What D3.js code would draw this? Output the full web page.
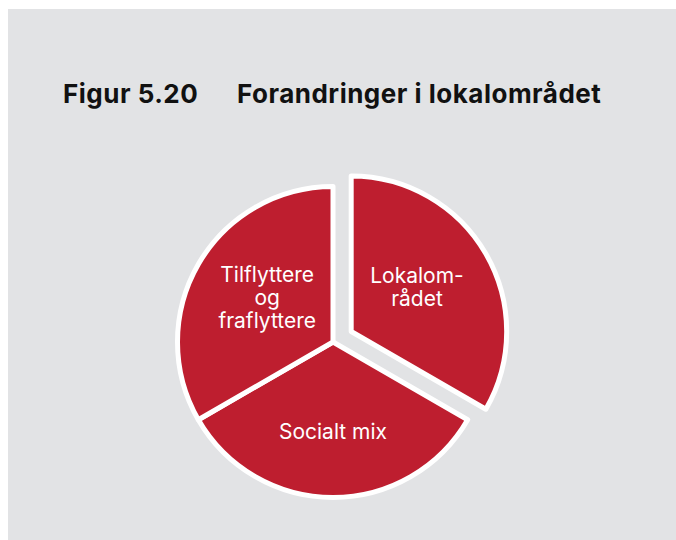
<!DOCTYPE html>
<html>
<head>
<meta charset="utf-8">
<script src="https://cdn.jsdelivr.net/npm/d3@7"></script>
<style>
  body { margin: 0; background: #fff; }
  svg { display: block; font-family: Inter, 'Noto Sans', sans-serif; }
</style>
</head>
<body>
<div id="chart"></div>
<script>
const labels = [['Lokalom-', 'rådet'], ['Socialt mix'], ['Tilflyttere', 'og', 'fraflyttere']]
const values = [1, 1, 1]
const exploded = [true, false, false]

const width = 676
const height = 540
const cx = 333
const cy = 342
const radius = 155.5
const explodeBy = 21
// labels sit on a slightly flattened ring inside the pie
const labelRx = 76
const labelRy = 89

const svg = d3
  .select('#chart')
  .append('svg')
  .attr('width', width)
  .attr('height', height)

svg
  .append('rect')
  .attr('x', 8)
  .attr('y', 9)
  .attr('width', width - 8)
  .attr('height', height - 9)
  .attr('fill', '#e2e3e5')

svg
  .append('text')
  .attr('x', 63)
  .attr('y', 103)
  .style('font-size', '26px')
  .style('font-weight', 700)
  .style('letter-spacing', '0.5px')
  .attr('fill', '#111')
  .text('Figur 5.20')
svg
  .append('text')
  .attr('x', 237)
  .attr('y', 103)
  .style('font-size', '26px')
  .style('font-weight', 700)
  .style('letter-spacing', '0.5px')
  .attr('fill', '#111')
  .text('Forandringer i lokalområdet')

const pie = d3.pie().sort(null).value(d => d)
const arcs = pie(values)
const arc = d3.arc().innerRadius(0).outerRadius(radius)

const g = svg.append('g').attr('transform', 'translate(' + cx + ',' + cy + ')')

const slices = g
  .selectAll('g.slice')
  .data(arcs)
  .enter()
  .append('g')
  .attr('class', 'slice')
  .attr('transform', function(d, i) {
    if (!exploded[i]) return null
    const mid = (d.startAngle + d.endAngle) / 2
    return 'translate(' + Math.sin(mid) * explodeBy + ',' + -Math.cos(mid) * explodeBy + ')'
  })

slices
  .append('path')
  .attr('d', arc)
  .attr('fill', '#be1e2f')
  .attr('stroke', '#fff')
  .attr('stroke-width', 5)
  .attr('stroke-linejoin', 'round')

slices
  .append('text')
  .attr('text-anchor', 'middle')
  .attr('fill', '#fff')
  .style('font-size', '21px')
  .each(function(d, i) {
    const mid = (d.startAngle + d.endAngle) / 2
    const x = Math.sin(mid) * labelRx
    const y = -Math.cos(mid) * labelRy
    const lines = labels[i]
    const lh = 23
    const top = y - ((lines.length - 1) * lh) / 2 + 7.5
    d3.select(this)
      .selectAll('tspan')
      .data(lines)
      .enter()
      .append('tspan')
      .attr('x', x)
      .attr('y', (t, j) => top + j * lh)
      .text(t => t)
  })
</script>
</body>
</html>
